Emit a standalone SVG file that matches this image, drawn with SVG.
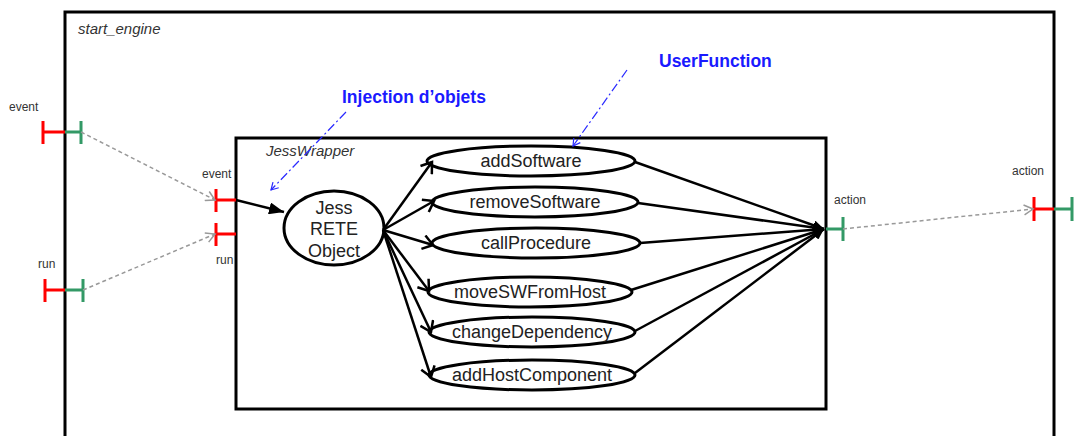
<svg xmlns="http://www.w3.org/2000/svg" width="1075" height="436" viewBox="0 0 1075 436">
<style>
text{font-family:"Liberation Sans",Arial,sans-serif;}
.box{fill:none;stroke:#000;stroke-width:3;}
.title{font-size:15px;font-style:italic;fill:#333;}
.plabel{font-size:12px;fill:#333;}
.red{stroke:#ff0000;stroke-width:3;fill:none;}
.green{stroke:#339966;stroke-width:3;fill:none;}
.uc{fill:#fff;stroke:#000;stroke-width:3;}
.uct{font-size:18px;fill:#222;text-anchor:middle;}
.fan{stroke:#000;stroke-width:2.5;fill:none;marker-end:url(#open);}
.conv{stroke:#000;stroke-width:2.5;fill:none;marker-end:url(#filledsm);}
.gray{stroke:#999;stroke-width:1.5;stroke-dasharray:4,3;fill:none;marker-end:url(#grayopen);}
.blue{stroke:#2a2aff;stroke-width:1.2;stroke-dasharray:9,3,2,3;fill:none;marker-end:url(#blueopen);}
.note{font-size:17.5px;font-weight:bold;fill:#1a1aff;}
</style>
<defs>
<marker id="filled" markerUnits="userSpaceOnUse" markerWidth="16" markerHeight="12" refX="15" refY="6" orient="auto">
<path d="M0,0 L15,6 L0,12 z" fill="#000"/>
</marker>
<marker id="filledsm" markerUnits="userSpaceOnUse" markerWidth="12" markerHeight="10" refX="11" refY="5" orient="auto">
<path d="M0,0 L11,5 L0,10 z" fill="#000"/>
</marker>
<marker id="open" markerUnits="userSpaceOnUse" markerWidth="14" markerHeight="16" refX="11" refY="8" orient="auto">
<path d="M1,1 L11,8 L1,15" fill="none" stroke="#000" stroke-width="2.5"/>
</marker>
<marker id="grayopen" markerUnits="userSpaceOnUse" markerWidth="12" markerHeight="12" refX="10" refY="6" orient="auto">
<path d="M1,1 L10,6 L1,11" fill="none" stroke="#999" stroke-width="1.5"/>
</marker>
<marker id="blueopen" markerUnits="userSpaceOnUse" markerWidth="10" markerHeight="10" refX="8" refY="5" orient="auto">
<path d="M1,1 L8,5 L1,9" fill="none" stroke="#2a2aff" stroke-width="1.2"/>
</marker>
</defs>
<rect width="1075" height="436" fill="#fff"/>

<g id="start_engine">
<rect class="box" x="65" y="12" width="989" height="440"/>
<text class="title" x="78" y="34">start_engine</text>
</g>

<g id="JessWrapper">
<rect class="box" x="236" y="138" width="590" height="271"/>
<text class="title" x="266" y="156">JessWrapper</text>
</g>

<g id="port-outer-event">
<text class="plabel" x="9" y="111">event</text>
<path class="red" d="M43,121 V144 M43,132 H65"/>
<path class="green" d="M65,132 H81 M81,121 V144"/>
</g>
<g id="port-outer-run">
<text class="plabel" x="38" y="268">run</text>
<path class="red" d="M45,279 V302 M45,290 H65"/>
<path class="green" d="M65,290 H83 M83,279 V302"/>
</g>
<g id="port-inner-event">
<text class="plabel" x="202" y="178">event</text>
<path class="red" d="M216,189 V212 M216,200 H236"/>
</g>
<g id="port-inner-run">
<text class="plabel" x="216" y="264">run</text>
<path class="red" d="M216,223 V246 M216,234 H236"/>
</g>
<g id="port-inner-action">
<text class="plabel" x="834" y="204">action</text>
<path class="green" d="M826,229 H843 M843,217 V241"/>
</g>
<g id="port-outer-action">
<text class="plabel" x="1012" y="175">action</text>
<path class="red" d="M1034,197 V221 M1034,209 H1054"/>
<path class="green" d="M1054,209 H1072 M1072,197 V221"/>
</g>

<g id="jess">
<ellipse class="uc" cx="334" cy="228" rx="50" ry="37"/>
<text class="uct" x="334" y="214">Jess</text>
<text class="uct" x="334" y="235">RETE</text>
<text class="uct" x="334" y="257">Object</text>
</g>

<g id="addSoftware"><ellipse class="uc" cx="531" cy="161" rx="104" ry="15"/><text class="uct" x="531" y="167">addSoftware</text></g>
<g id="removeSoftware"><ellipse class="uc" cx="535" cy="202" rx="103" ry="15"/><text class="uct" x="535" y="208">removeSoftware</text></g>
<g id="callProcedure"><ellipse class="uc" cx="536" cy="243" rx="104" ry="15"/><text class="uct" x="536" y="249">callProcedure</text></g>
<g id="moveSWFromHost"><ellipse class="uc" cx="530" cy="292" rx="102" ry="15"/><text class="uct" x="530" y="298">moveSWFromHost</text></g>
<g id="changeDependency"><ellipse class="uc" cx="532" cy="332" rx="103" ry="15"/><text class="uct" x="532" y="338">changeDependency</text></g>
<g id="addHostComponent"><ellipse class="uc" cx="532" cy="375" rx="103" ry="15"/><text class="uct" x="532" y="381">addHostComponent</text></g>

<g id="notes">
<text class="note" x="342" y="103">Injection d’objets</text>
<text class="note" x="659" y="67">UserFunction</text>
</g>

<g id="connectors">
<path class="gray" d="M81,132 L215,200"/>
<path class="gray" d="M83,290 L215,234"/>
<path class="gray" d="M843,229 L1033,209"/>
<path d="M236,200 L284,212" stroke="#000" stroke-width="2.5" fill="none" marker-end="url(#filled)"/>
<path class="fan" d="M383,230 L432,162"/>
<path class="fan" d="M383,230 L434,201"/>
<path class="fan" d="M383,230 L433,245"/>
<path class="fan" d="M383,230 L429,291"/>
<path class="fan" d="M383,230 L431,332"/>
<path class="fan" d="M383,230 L431,377"/>
<path class="conv" d="M635,162 L824,229"/>
<path class="conv" d="M638,203 L824,229"/>
<path class="conv" d="M640,243 L824,229"/>
<path class="conv" d="M631,290 L824,229"/>
<path class="conv" d="M635,331 L824,229"/>
<path class="conv" d="M635,373 L824,229"/>
<path class="blue" d="M346,112 L271,190"/>
<path class="blue" d="M627,70 L573,146"/>
</g>
</svg>
